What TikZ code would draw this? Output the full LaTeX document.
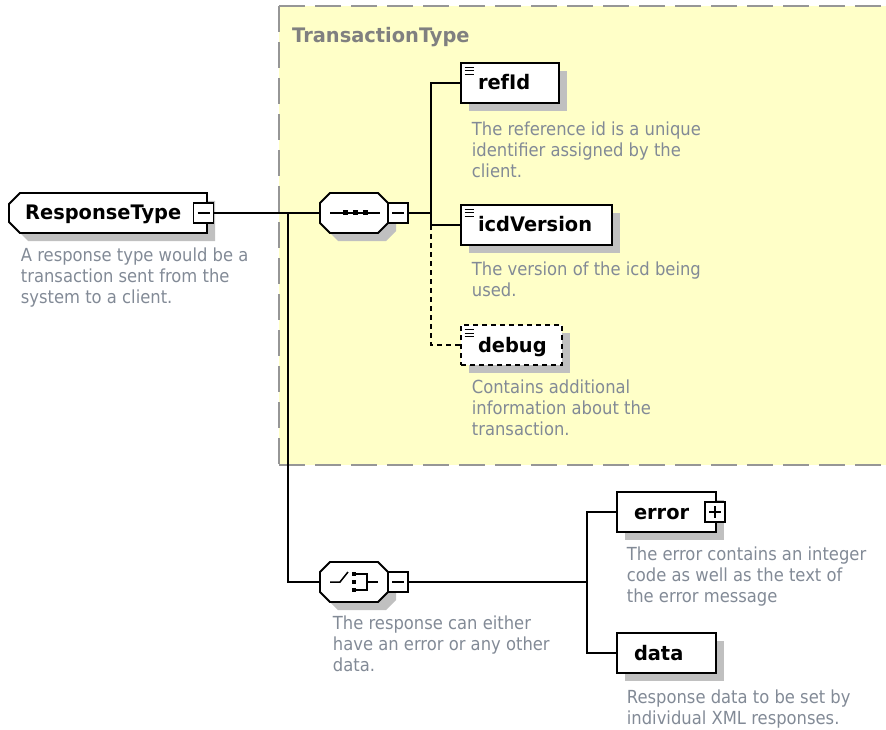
\documentclass[tikz,border=0pt]{standalone}
\usepackage{fontspec}
\usetikzlibrary{shadows,calc}
\newfontfamily\namefam[FakeStretch=0.97]{DejaVu Sans}
\newfontfamily\notefam[FakeStretch=0.91]{DejaVu Sans}
\definecolor{paneyellow}{RGB}{255,255,200}
\definecolor{panedash}{RGB}{150,150,150}
\definecolor{shadowgray}{RGB}{192,192,192}
\definecolor{notegray}{RGB}{130,138,150}
\definecolor{titlegray}{RGB}{128,128,128}
\tikzset{
  wire/.style={line width=1.8pt},
  optwire/.style={wire, dash pattern=on 5pt off 4pt},
  shadowed/.style={general shadow={fill=shadowgray, shadow xshift=8pt, shadow yshift=-8pt}},
  elem/.style={draw, fill=white, line width=1.8pt, shadowed, anchor=north west,
    outer sep=0pt, minimum height=40pt, inner xsep=17pt, inner ysep=0pt,
    text height=15pt, text depth=1pt, align=left,
    font=\namefam\bfseries\fontsize{20}{24}\selectfont},
  optelem/.style={elem, dash pattern=on 5pt off 4pt},
  nametext/.style={inner sep=0pt, anchor=base west,
    font=\namefam\bfseries\fontsize{20}{24}\selectfont},
  note/.style={anchor=north west, inner sep=0pt, align=left, text=notegray,
    font=\notefam\fontsize{18}{21.3}\selectfont},
  toggle/.style={draw, fill=white, line width=1.4pt, minimum size=20pt,
    inner sep=0pt, outer sep=0pt},
  minusbox/.style={toggle, path picture={
    \draw[line width=1.3pt] ([xshift=4pt]path picture bounding box.west)
      -- ([xshift=-4pt]path picture bounding box.east);}},
  plusbox/.style={toggle, path picture={
    \draw[line width=1.3pt] ([xshift=4pt]path picture bounding box.west)
      -- ([xshift=-4pt]path picture bounding box.east)
      ([yshift=-4pt]path picture bounding box.north)
      -- ([yshift=4pt]path picture bounding box.south);}},
  compositor/.style={inner sep=0pt, outer sep=0pt, minimum width=68pt, minimum height=40pt},
  attrbar/.style={line width=1pt},
  icon/.style={line width=1.5pt},
}
% three short bars marking an element of the complex type
\newcommand\attrmark[1]{%
  \foreach \dy in {4.5,8,11.5}
    \draw[attrbar] ($(#1.north west)+(3.5,\dy)$) -- ++(9,0);}
\begin{document}
\begin{tikzpicture}[x=1pt, y=-1pt]
\useasboundingbox (0,0) rectangle (886,730);

% complex type pane
\fill[paneyellow] (279,6) rectangle (886,465);
\draw[panedash, line width=2pt, dash pattern=on 26pt off 10pt] (279,6) -- (886,6);
\draw[panedash, line width=2pt, dash pattern=on 26pt off 10pt] (279,6) -- (279,465);
\draw[panedash, line width=2pt, dash pattern=on 26pt off 10pt] (279,465) -- (886,465);
\node[inner sep=0pt, anchor=base west, text=titlegray,
  font=\namefam\bfseries\fontsize{20}{24}\selectfont] (ttl) at (292,43) {TransactionType};

% root element
\draw[wire, fill=white, shadowed] (20,193) -- (207,193) -- (207,233) -- (20,233)
  -- (9,222) -- (9,204) -- cycle;
\node[nametext] (rt) at (25,220) {ResponseType};
\node[minusbox] (rtx) at (203.5,213) {};
\node[note] (rtnote) at (20.7,247.3) {A response type would be a\\transaction sent from the\\system to a client.};

% sequence compositor
\draw[wire, fill=white, shadowed] (330,193) -- (378,193) -- (388,203) -- (388,223)
  -- (378,233) -- (330,233) -- (320,223) -- (320,203) -- cycle;
\node[compositor] (seq) at (354,213) {};
\draw[icon] ($(seq.center)+(-24,0)$) -- ($(seq.center)+(26,0)$);
\foreach \dx in {-9,1,11}
  \fill ($(seq.center)+(\dx-2.5,-2.5)$) rectangle ++(5,5);
\node[minusbox] (seqx) at (398,213) {};

% choice compositor
\draw[wire, fill=white, shadowed] (330,562) -- (378,562) -- (388,572) -- (388,592)
  -- (378,602) -- (330,602) -- (320,592) -- (320,572) -- cycle;
\node[compositor] (cho) at (354,582) {};
\draw[icon] ($(cho.center)+(-24,0)$) -- ($(cho.center)+(-14,0)$) -- ($(cho.center)+(-6,-10)$);
\foreach \dy in {-8,0,8}
  \fill ($(cho.center)+(-2.2,\dy-2.2)$) rectangle ++(4.5,4.5);
\draw[icon] ($(cho.center)+(0,-8)$) -- ($(cho.center)+(13,-8)$) -- ($(cho.center)+(13,8)$) -- ($(cho.center)+(0,8)$);
\draw[icon] ($(cho.center)+(13,0)$) -- ($(cho.center)+(24,0)$);
\node[minusbox] (chox) at (398,582) {};
\node[note] (chonote) at (332.7,615.3) {The response can either\\have an error or any other\\data.};

% members of TransactionType
\node[elem, text width=64pt] (refid) at (461,63) {refId};
\attrmark{refid}
\node[note] (refidnote) at (471.7,121.3) {The reference id is a unique\\identifier assigned by the\\client.};

\node[elem, text width=117pt] (icdv) at (461,205) {icdVersion};
\attrmark{icdv}
\node[note] (icdvnote) at (471.7,261.3) {The version of the icd being\\used.};

\node[optelem, text width=67pt] (debug) at (461,325) {debug};
\attrmark{debug}
\node[note] (debugnote) at (471.7,379.3) {Contains additional\\information about the\\transaction.};

% choice alternatives
\node[elem, text width=65pt] (err) at (617,492) {error};
\node[plusbox] (errx) at (715,512) {};
\node[note] (errnote) at (626.7,546.3) {The error contains an integer\\code as well as the text of\\the error message};

\node[elem, text width=65pt] (dat) at (617,633) {data};
\node[note] (datnote) at (626.7,689.3) {Response data to be set by\\individual XML responses.};

% connectors
\coordinate (split) at (288,213);
\coordinate (seqbus) at (431,213);
\coordinate (chobus) at (587,582);
\draw[wire] (rtx.east) -- (seq.west);
\draw[wire] (split) |- (cho.west);
\draw[wire] (seqx.east) -- (seqbus);
\draw[wire] (refid.west) -| (seqbus |- icdv.west) -- (icdv.west);
\draw[optwire] (seqbus |- icdv.west) |- (debug.west);
\draw[wire] (chox.east) -- (chobus);
\draw[wire] (err.west) -| (chobus |- dat.west) -- (dat.west);
\end{tikzpicture}
\end{document}
